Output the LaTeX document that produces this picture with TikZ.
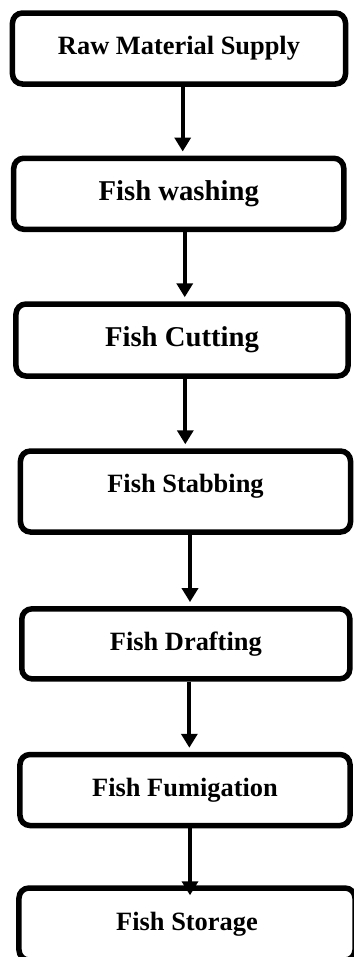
\documentclass[tikz,border=0pt]{standalone}
\usepackage{fontspec}
\setmainfont{Liberation Serif}
\usetikzlibrary{arrows.meta}
\tikzset{
  stagebox/.style={draw=black, line width=5.5bp, rounded corners=10bp,
    minimum width=330bp, minimum height=71bp, inner sep=0pt,
    font=\fontsize{26.5}{30}\selectfont\bfseries},
  bigtext/.style={font=\fontsize{28.8}{32}\selectfont\bfseries},
  flowarrow/.style={line width=4bp, -{Triangle[length=14bp,width=16bp]},
    shorten >=4bp}
}

\begin{document}
\begin{tikzpicture}[x=1bp,y=-1bp]
  \useasboundingbox (0,0) rectangle (353,957);
  \node[stagebox, minimum width=333bp] (supply) at (179,48.5) {Raw Material Supply};
  \node[stagebox, bigtext] (washing) at (178.75,193.75) {Fish washing};
  \node[stagebox, bigtext, minimum width=332bp, minimum height=72bp] (cutting) at (182,340) {Fish Cutting};
  \node[stagebox, minimum height=81bp, text depth=15.6bp] (stabbing) at (185.5,491.5) {Fish Stabbing};
  \node[stagebox, minimum width=328bp, minimum height=70bp] (drafting) at (185.85,643.85) {Fish Drafting};
  \node[stagebox] (fumigation) at (185,790) {Fish Fumigation};
  \node[stagebox, minimum width=336bp, minimum height=72bp] (storage) at (187,924) {Fish Storage};
  \draw[flowarrow] ([xshift=3.7bp]supply.south) -- ([xshift=3.7bp]supply.south |- washing.north);
  \draw[flowarrow] ([xshift=6bp]washing.south) -- ([xshift=6bp]washing.south |- cutting.north);
  \draw[flowarrow] ([xshift=3.3bp]cutting.south) -- ([xshift=3.3bp]cutting.south |- stabbing.north);
  \draw[flowarrow] ([xshift=4.5bp]stabbing.south) -- ([xshift=4.5bp]stabbing.south |- drafting.north);
  \draw[flowarrow] ([xshift=3.5bp]drafting.south) -- ([xshift=3.5bp]drafting.south |- fumigation.north);
  \draw[flowarrow, shorten >=-10bp] ([xshift=5bp]fumigation.south) -- ([xshift=5bp]fumigation.south |- storage.north);
\end{tikzpicture}
\end{document}
